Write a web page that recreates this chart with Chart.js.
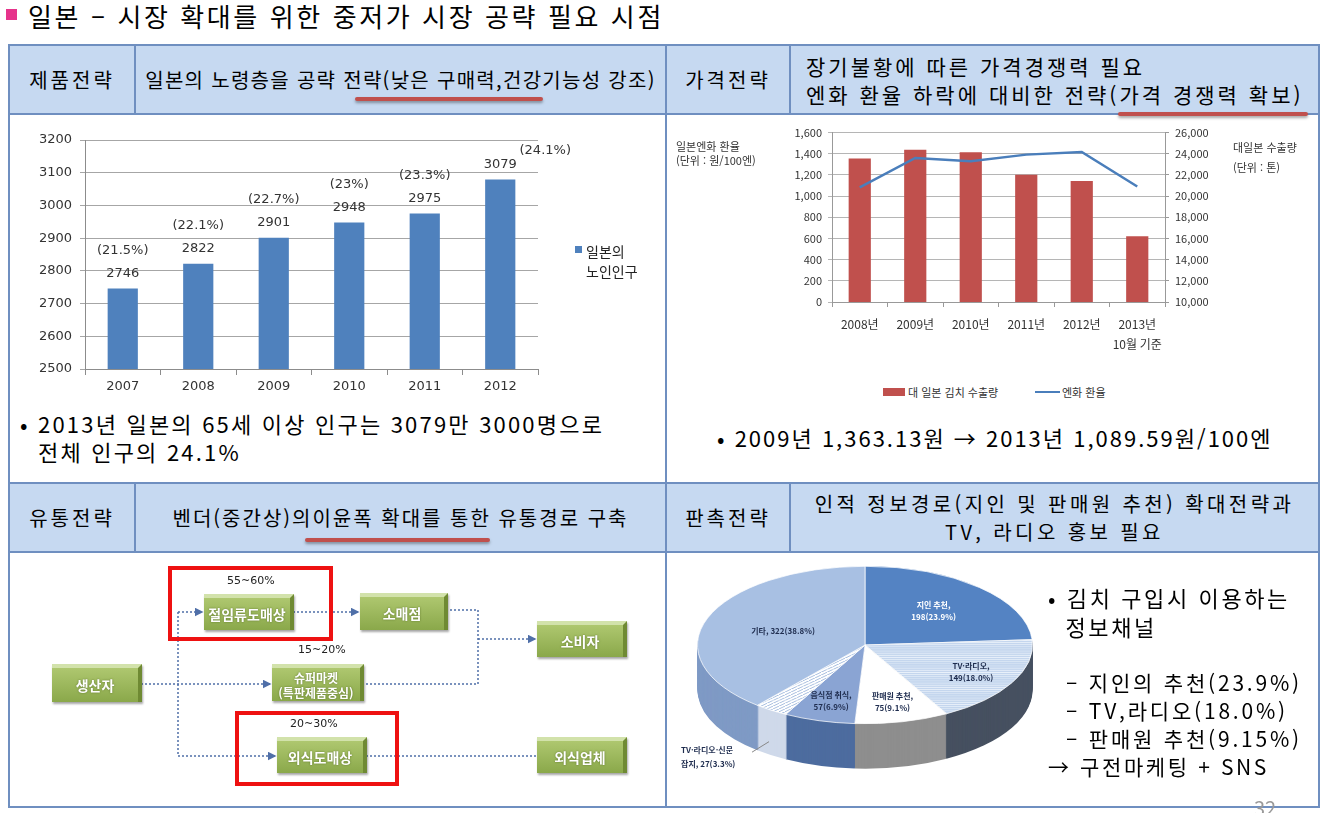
<!DOCTYPE html>
<html lang="ko">
<head>
<meta charset="utf-8">
<script src="https://cdn.jsdelivr.net/npm/chart.js@4.4.0/dist/chart.umd.min.js"></script>
<style>
body{margin:0;width:1327px;height:813px;position:relative;overflow:hidden;background:#fff;font-family:"Noto Sans CJK KR","Noto Sans",sans-serif;color:#000}
.box{position:absolute}
.band{position:absolute;background:#c6d9f1}
.ln{position:absolute;background:#6f8fc0}
.hd{position:absolute;display:flex;align-items:center;justify-content:center;text-align:center;font-size:20px;line-height:28px;white-space:nowrap}
.ul{position:absolute;height:4px;background:#c0504d;border-radius:2px;box-shadow:0 2px 3px rgba(0,0,0,.35)}
.txt{position:absolute;font-size:20px;line-height:27px;white-space:nowrap}
.small{position:absolute;font-size:11px;line-height:14px;color:#333;white-space:nowrap}
.g{position:absolute;display:flex;align-items:center;justify-content:center;text-align:center;color:#fff;font-weight:bold;font-size:14px;line-height:17px;background:linear-gradient(#aec76f,#8aa84a);border-top:4px solid #d2e2ab;border-right:4px solid #6f8a33;box-sizing:border-box;text-shadow:0 0 2px #5a7028;box-shadow:1px 2px 2px rgba(0,0,0,.35)}
.pct{position:absolute;font-size:11px;font-family:"DejaVu Sans",sans-serif;color:#222}
.red{position:absolute;border:4px solid #ee1111;box-sizing:border-box}
</style>
</head>
<body>

<!-- title -->
<div class="box" style="left:6px;top:9px;width:11px;height:11px;background:#e6338b"></div>
<div class="txt" style="left:28px;top:-2px;font-size:26px;line-height:36px;letter-spacing:2.6px">일본 – 시장 확대를 위한 중저가 시장 공략 필요 시점</div>

<!-- table frame -->
<div class="band" style="left:10px;top:46px;width:1308px;height:68px"></div>
<div class="band" style="left:10px;top:484px;width:1308px;height:68px"></div>
<div class="box" style="left:8px;top:44px;width:1312px;height:764px;border:2px solid #6f8fc0;box-sizing:border-box"></div>
<div class="ln" style="left:8px;top:113px;width:1312px;height:2px"></div>
<div class="ln" style="left:8px;top:482px;width:1312px;height:2px"></div>
<div class="ln" style="left:8px;top:551px;width:1312px;height:2px"></div>
<div class="ln" style="left:665px;top:44px;width:2px;height:764px"></div>
<div class="ln" style="left:134px;top:44px;width:2px;height:70px"></div>
<div class="ln" style="left:789px;top:44px;width:2px;height:70px"></div>
<div class="ln" style="left:134px;top:482px;width:2px;height:70px"></div>
<div class="ln" style="left:789px;top:482px;width:2px;height:70px"></div>

<!-- header texts -->
<div class="hd" style="left:10px;top:46px;width:124px;height:68px;letter-spacing:3px">제품전략</div>
<div class="hd" style="left:136px;top:46px;width:529px;height:68px;letter-spacing:1.3px">일본의 노령층을 공략 전략(낮은 구매력,건강기능성 강조)</div>
<div class="hd" style="left:667px;top:46px;width:122px;height:68px;letter-spacing:3px">가격전략</div>
<div class="hd" style="left:806px;top:46px;width:510px;height:68px;justify-content:flex-start;text-align:left;font-size:21px;letter-spacing:3px">장기불황에 따른 가격경쟁력 필요<br>엔화 환율 하락에 대비한 전략(가격 경쟁력 확보)</div>
<div class="hd" style="left:10px;top:484px;width:124px;height:68px;letter-spacing:3px">유통전략</div>
<div class="hd" style="left:136px;top:484px;width:529px;height:68px;letter-spacing:2px">벤더(중간상)의이윤폭 확대를 통한 유통경로 구축</div>
<div class="hd" style="left:667px;top:484px;width:122px;height:68px;letter-spacing:3px">판촉전략</div>
<div class="hd" style="left:791px;top:484px;width:527px;height:68px;letter-spacing:3.4px">인적 정보경로(지인 및 판매원 추천) 확대전략과<br>TV, 라디오 홍보 필요</div>

<div class="ul" style="left:355px;top:97px;width:188px"></div>
<div class="ul" style="left:1118px;top:112px;width:190px"></div>
<div class="ul" style="left:305px;top:538px;width:185px"></div>

<!-- top-left chart -->
<div class="box" style="left:12px;top:118px;width:650px;height:285px"><canvas id="elderly" width="650" height="285"></canvas></div>
<div class="box" style="left:575px;top:246px;width:7px;height:7px;background:#4f81bd"></div>
<div class="small" style="left:586px;top:241px;font-size:14px;line-height:20px;color:#222">일본의<br>노인인구</div>
<div class="txt" style="left:20px;top:410px;font-size:22px;letter-spacing:2.2px">• 2013년 일본의 65세 이상 인구는 3079만 3000명으로</div>
<div class="txt" style="left:38px;top:438px;font-size:22px;letter-spacing:2.2px">전체 인구의 24.1%</div>

<!-- top-right chart -->
<div class="box" style="left:670px;top:120px;width:650px;height:240px"><canvas id="fx" width="650" height="240"></canvas></div>
<div class="small" style="left:676px;top:139px">일본엔화 환율<br>(단위 : 원/100엔)</div>
<div class="small" style="left:1233px;top:137px;line-height:20px">대일본 수출량<br>(단위 : 톤)</div>
<div class="box" style="left:883px;top:388px;width:22px;height:8px;background:#c0504d"></div>
<div class="small" style="left:908px;top:385px">대 일본 김치 수출량</div>
<div class="box" style="left:1035px;top:391px;width:25px;height:2px;background:#4a7ebb"></div>
<div class="small" style="left:1062px;top:385px">엔화 환율</div>
<div class="txt" style="left:717px;top:424px;font-size:22px;letter-spacing:2px">• 2009년 1,363.13원 → 2013년 1,089.59원/100엔</div>

<!-- distribution flow -->
<svg class="box" style="left:0;top:0" width="1327" height="813">
  <defs>
    <marker id="ar" markerWidth="6" markerHeight="6" refX="5" refY="3" orient="auto">
      <path d="M0,0 L6,3 L0,6 z" fill="#4f6fa8"/>
    </marker>
  </defs>
  <g fill="none" stroke="#4f6fa8" stroke-width="1.5" stroke-dasharray="2,2">
    <path d="M141,684 H270" marker-end="url(#ar)"/>
    <path d="M178,612 V756"/>
    <path d="M178,612 H202" marker-end="url(#ar)"/>
    <path d="M178,756 H275" marker-end="url(#ar)"/>
    <path d="M293,612 H358" marker-end="url(#ar)"/>
    <path d="M446,610 H478 V684 H363"/>
    <path d="M478,639 H535" marker-end="url(#ar)"/>
    <path d="M366,756 H537"/>
  </g>
</svg>
<div class="g" style="left:52px;top:664px;width:90px;height:38px">생산자</div>
<div class="pct" style="left:227px;top:574px">55~60%</div>
<div class="g" style="left:204px;top:594px;width:90px;height:36px">절임류도매상</div>
<div class="g" style="left:360px;top:593px;width:88px;height:37px">소매점</div>
<div class="g" style="left:537px;top:621px;width:90px;height:36px">소비자</div>
<div class="pct" style="left:298px;top:643px">15~20%</div>
<div class="g" style="left:272px;top:664px;width:92px;height:37px;font-size:12px;line-height:15px">슈퍼마켓<br>(특판제품중심)</div>
<div class="pct" style="left:290px;top:717px">20~30%</div>
<div class="g" style="left:277px;top:737px;width:90px;height:36px">외식도매상</div>
<div class="g" style="left:537px;top:737px;width:90px;height:36px">외식업체</div>
<div class="red" style="left:168px;top:566px;width:165px;height:75px"></div>
<div class="red" style="left:235px;top:711px;width:164px;height:75px"></div>

<!-- promotion pie -->
<div class="box" style="left:665px;top:475px;width:400px;height:340px"><canvas id="channel" width="400" height="340"></canvas></div>
<div class="txt" style="left:1048px;top:583px;font-size:22px;line-height:29px;letter-spacing:2.6px">• 김치 구입시 이용하는<br>&nbsp;&nbsp;정보채널</div>
<div class="txt" style="left:1066px;top:668px;font-size:21px;line-height:28px;letter-spacing:2.8px">– 지인의 추천(23.9%)<br>– TV,라디오(18.0%)<br>– 판매원 추천(9.15%)</div>
<div class="txt" style="left:1048px;top:752px;font-size:21px;line-height:28px;letter-spacing:2.6px">→ 구전마케팅 + SNS</div>
<div class="txt" style="left:1254px;top:794px;color:#999">32</div>

<script>
// elderly population in Japan (10,000 persons)
const years = ['2007', '2008', '2009', '2010', '2011', '2012'];
const elderly = [2746, 2822, 2901, 2948, 2975, 3079];
const elderlyShare = ['21.5%', '22.1%', '22.7%', '23%', '23.3%', '24.1%'];
const elderlyTicks = [2500, 3200, 100];

// kimchi exports to Japan vs yen rate
const fxYears = ['2008년', '2009년', '2010년', '2011년', '2012년', ['2013년', '10월 기준']];
const kimchiExport = [23550, 24390, 24140, 22030, 21440, 16200];
const yenRate = [1082, 1361, 1330, 1392, 1417, 1091];

// information channels when buying kimchi
const channels = ['지인 추천', 'TV·라디오', '판매원 추천', '음식점 취식', 'TV·라디오·신문 잡지', '기타'];
const channelCount = [198, 149, 75, 57, 27, 322];
const channelShare = ['23.9', '18.0', '9.1', '6.9', '3.3', '38.8'];

Chart.defaults.font.family = '"Noto Sans CJK KR", sans-serif';
Chart.defaults.animation = false;
Chart.defaults.responsive = false;

const barLabels = {
    id: 'barLabels',
    afterDatasetsDraw(chart) {
        const ctx = chart.ctx;
        const bars = chart.getDatasetMeta(0).data;
        ctx.save();
        ctx.font = '13px "DejaVu Sans"';
        ctx.fillStyle = '#333';
        ctx.textAlign = 'center';
        ctx.textBaseline = 'middle';
        bars.forEach((bar, i) => {
            const last = i === bars.length - 1;
            ctx.fillText(elderly[i], bar.x, bar.y - 15);
            ctx.fillText('(' + elderlyShare[i] + ')', bar.x + (last ? 45 : 0), bar.y - (last ? 29 : 38));
        });
        ctx.restore();
    }
};

new Chart(document.getElementById('elderly'), {
    type: 'bar',
    data: {
        labels: years,
        datasets: [{ label: '일본의 노인인구', data: elderly, backgroundColor: '#4f81bd', barPercentage: 0.4, categoryPercentage: 1 }]
    },
    options: {
        layout: { padding: { top: 22, right: 124, left: 0, bottom: 0 } },
        plugins: { legend: { display: false }, tooltip: { enabled: false } },
        scales: {
            x: {
                grid: { drawOnChartArea: false, color: '#8c8c8c', tickLength: 6 },
                border: { color: '#8c8c8c' },
                ticks: { color: '#333', font: { family: '"DejaVu Sans"', size: 13 }, padding: 4 },
                afterFit: s => { s.height = 34; }
            },
            y: {
                min: elderlyTicks[0], max: elderlyTicks[1],
                ticks: { stepSize: elderlyTicks[2], color: '#333', font: { family: '"DejaVu Sans"', size: 13 }, padding: 8, callback: v => String(v) },
                grid: { color: '#a6a6a6', tickLength: 5 },
                border: { color: '#8c8c8c' },
                afterFit: s => { s.width = 73; }
            }
        }
    },
    plugins: [barLabels]
});

new Chart(document.getElementById('fx'), {
    data: {
        labels: fxYears,
        datasets: [
            { type: 'line', label: '엔화 환율', data: yenRate, yAxisID: 'y', borderColor: '#4a7ebb', borderWidth: 2.5, pointRadius: 0, tension: 0, order: 0 },
            { type: 'bar', label: '대 일본 김치 수출량', data: kimchiExport, yAxisID: 'y2', backgroundColor: '#c0504d', barPercentage: 0.4, categoryPercentage: 1, order: 1 }
        ]
    },
    options: {
        layout: { padding: { top: 11, right: 0, left: 0, bottom: 0 } },
        plugins: { legend: { display: false }, tooltip: { enabled: false } },
        scales: {
            x: {
                grid: { offset: true, drawOnChartArea: false, color: '#999', tickLength: 5 },
                border: { color: '#999' },
                ticks: { color: '#333', font: { size: 12, lineHeight: 1.7 }, padding: 7 },
                afterFit: s => { s.height = 58; }
            },
            y: {
                position: 'left', min: 0, max: 1600,
                ticks: { stepSize: 200, color: '#333', font: { size: 11 }, padding: 6, callback: v => v.toLocaleString('en-US') },
                grid: { color: '#b5b5b5', tickLength: 4 },
                border: { color: '#999' },
                afterFit: s => { s.width = 162; }
            },
            y2: {
                position: 'right', min: 10000, max: 26000,
                ticks: { stepSize: 2000, color: '#333', font: { size: 11 }, padding: 6, callback: v => v.toLocaleString('en-US') },
                grid: { drawOnChartArea: false, color: '#999', tickLength: 4 },
                border: { color: '#999' },
                afterFit: s => { s.width = 155; }
            }
        }
    }
});

// striped fills for the two patterned slices
function stripes(bg, fg, size, diag) {
    const c = document.createElement('canvas');
    c.width = size; c.height = size;
    const x = c.getContext('2d');
    x.fillStyle = bg;
    x.fillRect(0, 0, size, size);
    x.strokeStyle = fg;
    x.lineWidth = 1.5;
    x.beginPath();
    if (diag) { x.moveTo(0, size); x.lineTo(size, 0); }
    else { x.moveTo(0, 0.5); x.lineTo(size, 0.5); }
    x.stroke();
    return x.createPattern(c, 'repeat');
}

const tilt = 0.47;
const depth = 45;
const sideColors = ['#3b5f93', '#465060', '#8e8e8e', '#4d6c9f', '#cfd9ea', '#7f9ac5'];

const pie3d = {
    id: 'pie3d',
    beforeDatasetsDraw(chart) {
        const ctx = chart.ctx;
        const arcs = chart.getDatasetMeta(0).data;
        const cx = arcs[0].x, cy = arcs[0].y;
        ctx.save();
        ctx.translate(cx, cy);
        ctx.scale(1, tilt);
        ctx.translate(-cx, -cy);
        for (let d = depth; d > 0; d--) {
            arcs.forEach((a, i) => {
                ctx.beginPath();
                ctx.moveTo(cx, cy + d / tilt);
                ctx.arc(cx, cy + d / tilt, a.outerRadius, a.startAngle, a.endAngle);
                ctx.closePath();
                ctx.fillStyle = sideColors[i];
                ctx.fill();
            });
        }
    },
    afterDatasetsDraw(chart) {
        const ctx = chart.ctx;
        ctx.restore();
        const arcs = chart.getDatasetMeta(0).data;
        const labelR = [0.6, 0.72, 0.74, 0.74, 1, 0.52];
        ctx.save();
        ctx.font = 'bold 8px "Noto Sans CJK KR"';
        ctx.textAlign = 'center';
        ctx.textBaseline = 'middle';
        arcs.forEach((a, i) => {
            const mid = (a.startAngle + a.endAngle) / 2;
            let x = a.x + Math.cos(mid) * a.outerRadius * labelR[i];
            let y = a.y + Math.sin(mid) * a.outerRadius * labelR[i] * tilt;
            ctx.fillStyle = i === 0 ? '#fff' : '#1f2d4f';
            const value = channelCount[i] + '(' + channelShare[i] + '%)';
            if (i === 5) {
                ctx.fillText(channels[i] + ', ' + value, x, y);
            } else if (i === 4) {
                const lx = x - 55, ly = y + depth + 2;
                ctx.strokeStyle = '#888';
                ctx.lineWidth = 1;
                ctx.beginPath();
                ctx.moveTo(lx + 36, ly - 5);
                ctx.lineTo(x - 2, y + depth * 0.7);
                ctx.stroke();
                ctx.textAlign = 'left';
                ctx.fillText('TV·라디오·신문', lx - 35, ly - 7);
                ctx.fillText('잡지, ' + value, lx - 35, ly + 7);
                ctx.textAlign = 'center';
            } else {
                ctx.fillText(channels[i] + ',', x, y - 6);
                ctx.fillText(value, x, y + 6);
            }
        });
        ctx.restore();
    }
};

const pieCtx = document.getElementById('channel').getContext('2d');
new Chart(pieCtx, {
    type: 'pie',
    data: {
        labels: channels,
        datasets: [{
            data: channelCount,
            backgroundColor: ['#5483c3', stripes('#c4d6ee', '#e8f0fa', 4, false), '#ffffff', '#8aa4d3', stripes('#ffffff', '#a9bfe0', 6, true), '#a8c0e3'],
            borderColor: '#ffffff',
            borderWidth: 1
        }]
    },
    options: {
        layout: { padding: { left: 32, right: 32, top: 0, bottom: 0 } },
        plugins: { legend: { display: false }, tooltip: { enabled: false } }
    },
    plugins: [pie3d]
});
</script>
</body>
</html>
